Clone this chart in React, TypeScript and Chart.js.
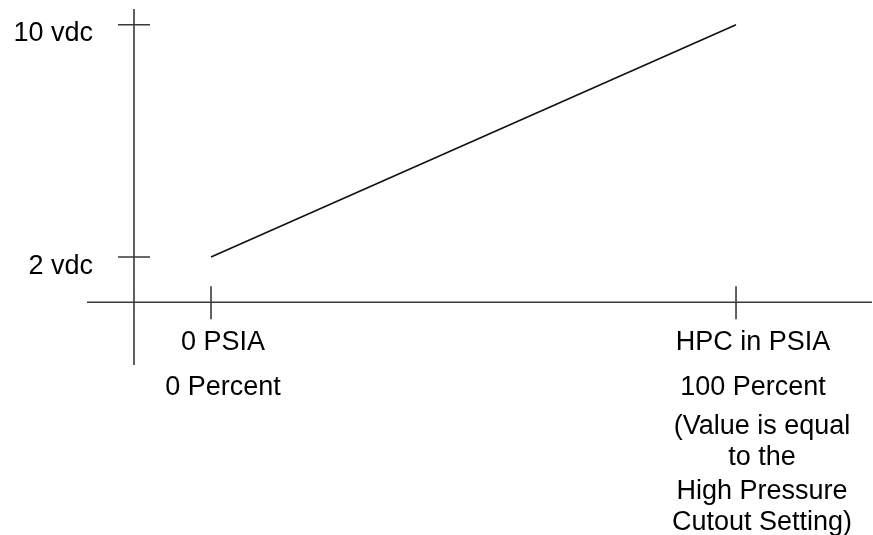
import React, { useEffect, useRef } from "react";
import { Chart, registerables } from "chart.js";

Chart.register(...registerables);

// ---- data ----
const X_VALUES = [0, 100]; // percent of HPC range
const Y_VALUES = [2, 10]; // vdc
const X_TICKS = [0, 100];
const X_TICK_LABELS = [
  ["0 PSIA", "0 Percent"],
  ["HPC in PSIA", "100 Percent"],
];
const Y_TICKS = [2, 10];
const Y_TICK_LABELS = ["2 vdc", "10 vdc"];
const NOTE_LINES = ["(Value is equal", "to the", "High Pressure", "Cutout Setting)"];

// ---- scale / layout settings ----
const X_MIN = -23.62;
const X_MAX = 125.9;
const Y_MIN = -1.719;
const Y_MAX = 10.541;
const X_ORIGIN = -14.67; // where the vertical axis crosses
const Y_ORIGIN = 0.44; // where the horizontal axis crosses

const FONT = '27px "Liberation Sans", Arial, Helvetica, sans-serif';
const AXIS_COLOR = "#3a3a3a";
const X_LABEL_DX = [12, 17];
const X_LABEL_BASELINES = [48, 93];
const NOTE_DX = 26;
const NOTE_BASELINES = [132, 163, 197, 228];

const axesPlugin = {
  id: "crossAxes",
  beforeDatasetsDraw(chart: any) {
    const { ctx, chartArea, scales } = chart;
    const xs = scales.x;
    const ys = scales.y;
    const ox = xs.getPixelForValue(X_ORIGIN);
    const oy = ys.getPixelForValue(Y_ORIGIN);
    ctx.save();
    ctx.strokeStyle = AXIS_COLOR;
    ctx.lineWidth = 1.6;
    ctx.beginPath();
    ctx.moveTo(chartArea.left, oy);
    ctx.lineTo(chartArea.right, oy);
    ctx.moveTo(ox, chartArea.top);
    ctx.lineTo(ox, chartArea.bottom);
    // y tick crosses
    Y_TICKS.forEach((v) => {
      const py = ys.getPixelForValue(v);
      ctx.moveTo(ox - 16, py);
      ctx.lineTo(ox + 16, py);
    });
    // x tick crosses
    X_TICKS.forEach((v) => {
      const px = xs.getPixelForValue(v);
      ctx.moveTo(px, oy - 16);
      ctx.lineTo(px, oy + 17);
    });
    ctx.stroke();

    ctx.fillStyle = "#000";
    ctx.font = FONT;
    ctx.textBaseline = "alphabetic";
    ctx.textAlign = "right";
    Y_TICKS.forEach((v, i) => {
      const py = ys.getPixelForValue(v);
      ctx.fillText(Y_TICK_LABELS[i], ox - 41, py + 16.5);
    });
    ctx.textAlign = "center";
    X_TICKS.forEach((v, i) => {
      const px = xs.getPixelForValue(v);
      X_TICK_LABELS[i].forEach((t, j) => {
        ctx.fillText(t, px + X_LABEL_DX[i], oy + X_LABEL_BASELINES[j]);
      });
    });
    const lastX = xs.getPixelForValue(X_TICKS[X_TICKS.length - 1]);
    NOTE_LINES.forEach((t, j) => {
      ctx.fillText(t, lastX + NOTE_DX, oy + NOTE_BASELINES[j]);
    });
    ctx.restore();
  },
};

export default function App() {
  const ref = useRef<HTMLCanvasElement | null>(null);
  useEffect(() => {
    document.body.style.margin = "0";
    const canvas = ref.current;
    if (!canvas) return;
    const chart = new Chart(canvas, {
      type: "scatter",
      data: {
        datasets: [
          {
            data: X_VALUES.map((x, i) => ({ x, y: Y_VALUES[i] })),
            showLine: true,
            borderColor: "#111",
            borderWidth: 1.6,
            pointRadius: 0,
            tension: 0,
            clip: false as any,
          },
        ],
      },
      options: {
        animation: false,
        responsive: false,
        devicePixelRatio: 1,
        layout: { padding: { left: 87, right: 1, top: 9, bottom: 170 } },
        scales: {
          x: { type: "linear", display: false, min: X_MIN, max: X_MAX },
          y: { type: "linear", display: false, min: Y_MIN, max: Y_MAX },
        },
        plugins: {
          legend: { display: false },
          tooltip: { enabled: false },
        },
      },
      plugins: [axesPlugin],
    });
    return () => chart.destroy();
  }, []);
  return (
    <div style={{ width: 873, height: 535, background: "#fff" }}>
      <canvas ref={ref} width={873} height={535} style={{ display: "block" }} />
    </div>
  );
}
